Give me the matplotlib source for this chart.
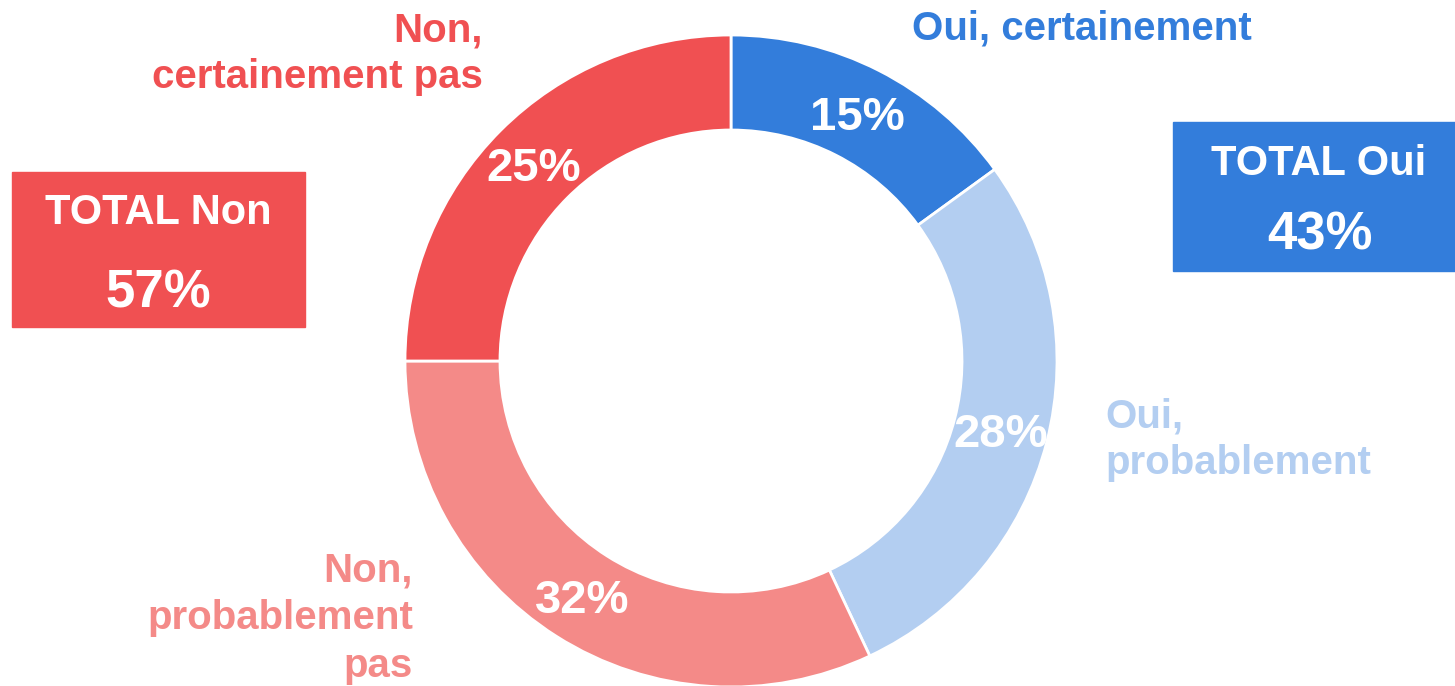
import matplotlib.pyplot as plt
from matplotlib.patches import Rectangle

plt.rcParams['font.family'] = ['Liberation Sans', 'DejaVu Sans']

# data
categories = ["Oui, certainement", "Oui, probablement", "Non, probablement pas", "Non, certainement pas"]
values = [15, 28, 32, 25]
colors = ["#337ddb", "#b3cef1", "#f48a88", "#f05052"]
total_labels = ["TOTAL Oui", "TOTAL Non"]
total_values = [43, 57]

W, H = 1455, 686

fig = plt.figure(figsize=(W / 100, H / 100), dpi=100)
ax = fig.add_axes([0, 0, 1, 1])

# donut
R = 326
ring = 95
wedges, texts, autotexts = ax.pie(
    values, colors=colors, startangle=90, counterclock=False,
    center=(731, H - 361), radius=R,
    wedgeprops=dict(width=ring, edgecolor="white", linewidth=2),
    autopct=lambda p: f"{p:.0f}%", pctdistance=(R - ring / 2) / R,
    textprops=dict(color="white", fontsize=34, fontweight="bold"),
)
for t in autotexts:
    t.set_va("center_baseline")
ax.set_xlim(0, W)
ax.set_ylim(0, H)
ax.set_aspect("equal")
ax.axis("off")


def put(lines, x, baselines, ha, color, size=29):
    for line, b in zip(lines, baselines):
        ax.text(x, H - b, line, ha=ha, va="baseline", color=color,
                fontsize=size, fontweight="bold")


# category labels
put(["Oui, certainement"], 1252, [40], "right", colors[0])
put(["Oui,", "probablement"], 1105, [427, 474], "left", colors[1])
put(["Non,", "probablement", "pas"], 413, [581, 629, 677], "right", colors[2])
put(["Non,", "certainement pas"], 483, [41, 88], "right", colors[3])

# total boxes
ax.add_patch(Rectangle((1173, H - 271), 300, 149, color=colors[0], zorder=3))
ax.add_patch(Rectangle((12, H - 327), 293, 155, color=colors[3], zorder=3))
ax.text(1319, H - 175, total_labels[0], ha="center", va="baseline",
        color="white", fontsize=30, fontweight="bold", zorder=4)
ax.text(1320, H - 249, f"{total_values[0]}%", ha="center", va="baseline",
        color="white", fontsize=38, fontweight="bold", zorder=4)
ax.text(158, H - 224, total_labels[1], ha="center", va="baseline",
        color="white", fontsize=30, fontweight="bold", zorder=4)
ax.text(158, H - 307, f"{total_values[1]}%", ha="center", va="baseline",
        color="white", fontsize=38, fontweight="bold", zorder=4)

fig.savefig("out.png", dpi=100)
